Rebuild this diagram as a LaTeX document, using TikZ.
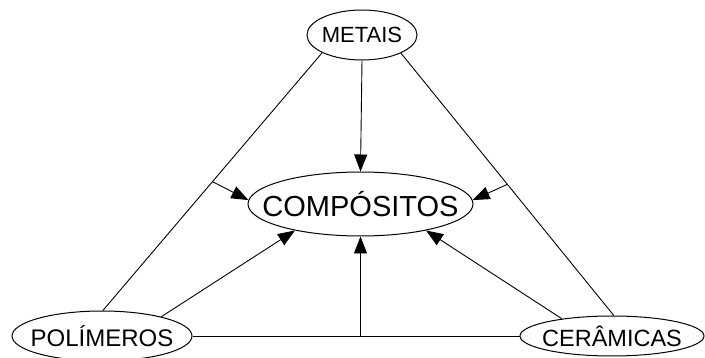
\documentclass[tikz,border=0pt]{standalone}
\usepackage{fontspec}
\setmainfont{Liberation Sans}
\usetikzlibrary{shapes.geometric,arrows.meta}
\begin{document}
\begin{tikzpicture}[x=1pt,y=-1pt,
  ell/.style={draw=black, line width=1pt, ellipse, inner sep=0pt},
  con/.style={draw=black, line width=0.9pt},
  arr/.style={con, -{Triangle[length=17pt,width=13pt]}}]
\useasboundingbox (0,0) rectangle (705,358);
\node[ell, minimum width=110pt, minimum height=50pt] (M) at (362,35)
  {\makebox[0pt]{\fontsize{22}{22}\selectfont METAIS}};
\node[ell, minimum width=225pt, minimum height=64pt] (C) at (360.5,204)
  {\makebox[0pt]{\fontsize{29}{29}\selectfont COMPÓSITOS}};
\node[ell, minimum width=180pt, minimum height=50pt] (P) at (102,336)
  {\makebox[0pt]{\fontsize{24}{24}\selectfont POLÍMEROS}};
\node[ell, minimum width=184pt, minimum height=40pt] (K) at (612,336)
  {\makebox[0pt]{\fontsize{23.5}{23.5}\selectfont CERÂMICAS}};
\draw[con] (M.204) -- coordinate[pos=0.5] (ml) (P.88);
\draw[con] (M.335) -- coordinate[pos=0.5] (mr) (K.85);
\draw[con] (P.east) -- (K.west);
\coordinate (bm) at (C.south |- P.east);
\draw[arr] (M.south) -- (C.north);
\draw[arr] (bm) -- (C.south);
\draw[arr] (ml) -- (C.178);
\draw[arr] (mr) -- (C.2);
\draw[arr] (P.18) -- (C.202);
\draw[arr] (K.161.6) -- (C.338);
\end{tikzpicture}
\end{document}
